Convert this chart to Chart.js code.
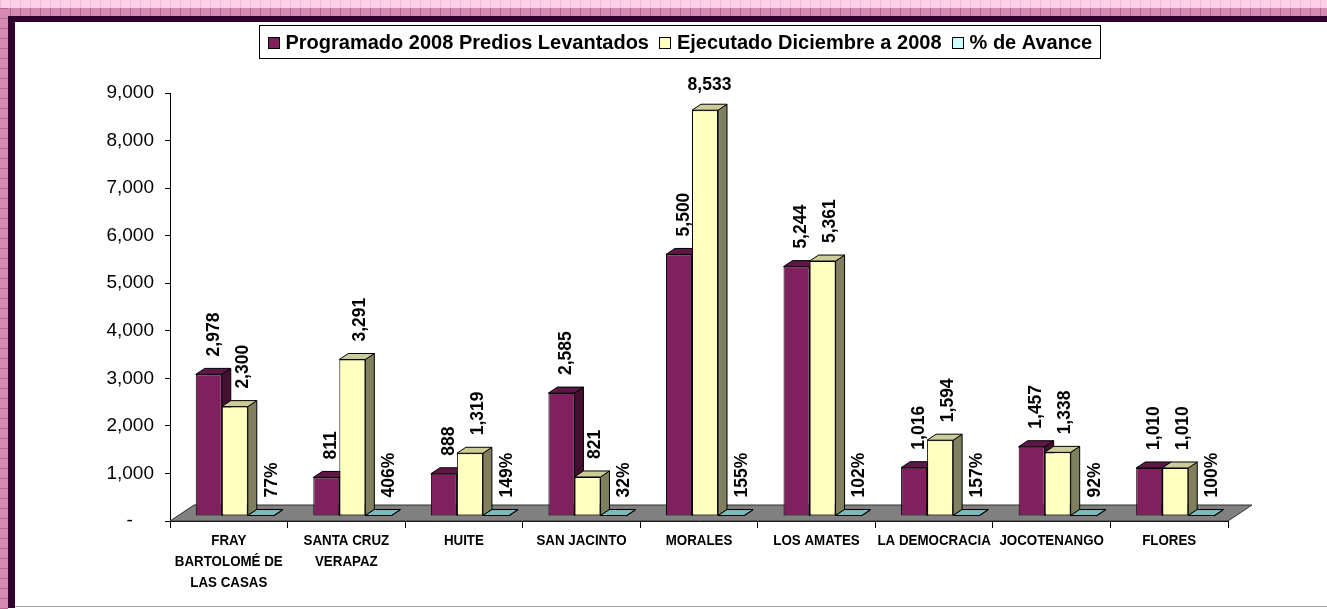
<!DOCTYPE html>
<html><head><meta charset="utf-8">
<script src="https://cdn.jsdelivr.net/npm/chart.js@4.4.0/dist/chart.umd.min.js"></script>
<style>
html,body{margin:0;padding:0;}
body{width:1327px;height:609px;overflow:hidden;position:relative;background:#fff;}
.b{position:absolute;}
</style></head><body>
<div class="b" style="left:0;top:0;width:1327px;height:8px;background:repeating-linear-gradient(90deg,#F6B8D6 0 1px,#FFCFE7 1px 10px);"></div>
<div class="b" style="left:0;top:8px;width:1327px;height:8px;background:repeating-linear-gradient(90deg,#B86794 0 1px,#D48AB2 1px 10px);"></div>
<div class="b" style="left:0;top:8px;width:8px;height:601px;background:repeating-linear-gradient(180deg,#B86794 0 1px,#D48AB2 1px 10px);"></div>
<div class="b" style="left:8px;top:16px;width:1319px;height:6px;background:#32002E;"></div>
<div class="b" style="left:8px;top:16px;width:7px;height:592px;background:#32002E;"></div>
<div class="b" style="left:15px;top:606px;width:1312px;height:1px;background:#A6A6A6;"></div>
<canvas id="c" width="1327" height="609" style="position:absolute;left:0;top:0;"></canvas>
<script>
// ---------------- data ----------------
const categories = [["FRAY","BARTOLOMÉ DE","LAS CASAS"],["SANTA CRUZ","VERAPAZ"],"HUITE","SAN JACINTO","MORALES","LOS AMATES","LA DEMOCRACIA","JOCOTENANGO","FLORES"];
const seriesNames = ["Programado 2008 Predios Levantados","Ejecutado Diciembre a 2008","% de Avance"];
const programado = [2978, 811, 888, 2585, 5500, 5244, 1016, 1457, 1010];
const ejecutado  = [2300, 3291, 1319, 821, 8533, 5361, 1594, 1338, 1010];
const avance     = [0.77, 4.06, 1.49, 0.32, 1.55, 1.02, 1.57, 0.92, 1.00];
const yTickLabels = ["-","1,000","2,000","3,000","4,000","5,000","6,000","7,000","8,000","9,000"];

// ---------------- styles ----------------
const FAM = '"Liberation Sans", Arial, sans-serif';
const frontColors = ['#80205F','#FFFFC0','#CCFFFF'];
const topColors   = ['#5E1747','#CCCC99','#7ABABA'];
const sideColors  = ['#43102F','#80805E','#5F9999'];
const labelDX = [5, 8, 11];
const DEPTH_X = 9, DEPTH_Y = -6, SHIFT_X = 6, SHIFT_Y = -5, FLOOR_DX = 24, FLOOR_DY = -16;
const LABEL_GAP = 18;
const LEGEND_CX = 679;
const X_LABEL_TOP = 19.5, X_LABEL_LINE = 21, X_LABEL_SQUEEZE = 0.86;

function poly(ctx, pts, fill){
  ctx.beginPath();
  ctx.moveTo(pts[0][0], pts[0][1]);
  for (let k = 1; k < pts.length; k++) ctx.lineTo(pts[k][0], pts[k][1]);
  ctx.closePath();
  ctx.fillStyle = fill; ctx.fill(); ctx.stroke();
}
function fmtNum(v){ return v.toLocaleString('en-US'); }
function fmtPct(v){ return Math.round(v*100) + '%'; }

const threeD = {
  id: 'threeD',
  beforeDatasetsDraw(chart){
    const {ctx, chartArea: a} = chart;
    ctx.save();
    ctx.lineWidth = 1; ctx.strokeStyle = '#333';
    poly(ctx, [[a.left,a.bottom],[a.right,a.bottom],[a.right+FLOOR_DX,a.bottom+FLOOR_DY],[a.left+FLOOR_DX,a.bottom+FLOOR_DY]], '#808080');
    ctx.restore();
    ctx.save();
    ctx.translate(SHIFT_X, SHIFT_Y);
    ctx.lineWidth = 1; ctx.strokeStyle = '#000';
    const n = chart.data.labels.length;
    for (let i = 0; i < n; i++){
      chart.data.datasets.forEach((ds, d) => {
        const el = chart.getDatasetMeta(d).data[i];
        const p = el.getProps(['x','y','base','width'], true);
        const L = p.x - p.width/2, R = p.x + p.width/2;
        const T = Math.min(p.y, p.base), B = Math.max(p.y, p.base);
        poly(ctx, [[R,T],[R+DEPTH_X,T+DEPTH_Y],[R+DEPTH_X,B+DEPTH_Y],[R,B]], sideColors[d]);
        poly(ctx, [[L,T],[R,T],[R+DEPTH_X,T+DEPTH_Y],[L+DEPTH_X,T+DEPTH_Y]], topColors[d]);
      });
    }
    // canvas stays translated while Chart.js draws the bar fronts
  },
  afterDatasetsDraw(chart){
    const ctx = chart.ctx;
    ctx.fillStyle = '#000';
    ctx.font = 'bold 17.5px ' + FAM;
    chart.data.datasets.forEach((ds, d) => {
      const meta = chart.getDatasetMeta(d);
      meta.data.forEach((el, i) => {
        const v = ds.data[i];
        const text = d < 2 ? fmtNum(v) : fmtPct(v);
        const p = el.getProps(['x','y','base'], true);
        const T = Math.min(p.y, p.base);
        const w = ctx.measureText(text).width;
        if (T - LABEL_GAP - w < chart.chartArea.top - 25){
          ctx.textAlign = 'center'; ctx.textBaseline = 'alphabetic';
          ctx.fillText(text, p.x + 4.5, T - 20);
        } else {
          ctx.save();
          ctx.translate(p.x + labelDX[d], T - LABEL_GAP);
          ctx.rotate(-Math.PI/2);
          ctx.textAlign = 'left'; ctx.textBaseline = 'middle';
          ctx.fillText(text, 0, 0);
          ctx.restore();
        }
      });
    });
    ctx.restore(); // undo translate from beforeDatasetsDraw
  },
  afterDraw(chart){
    const ctx = chart.ctx;
    // category labels (slightly condensed bold, like the original)
    const xs = chart.scales.x;
    ctx.save();
    ctx.fillStyle = '#000';
    ctx.font = 'bold 15.5px ' + FAM;
    ctx.textAlign = 'center'; ctx.textBaseline = 'middle';
    chart.data.labels.forEach((lab, i) => {
      const lines = Array.isArray(lab) ? lab : [lab];
      const cx = xs.getPixelForTick(i);
      lines.forEach((ln, k) => {
        ctx.save();
        ctx.translate(cx, xs.top + X_LABEL_TOP + k*X_LABEL_LINE);
        ctx.scale(X_LABEL_SQUEEZE, 1);
        ctx.fillText(ln, 0, 0);
        ctx.restore();
      });
    });
    ctx.restore();

    // legend
    ctx.save();
    ctx.font = 'bold 20px ' + FAM;
    const items = chart.data.datasets.map(ds => ({label: ds.label, color: ds.backgroundColor, w: ctx.measureText(ds.label).width}));
    const SW = 11, GAP1 = 7, GAP2 = 10, PADX = 8, H = 33;
    const contentW = items.reduce((s, it) => s + SW + GAP1 + it.w, 0) + GAP2*(items.length-1);
    const boxW = Math.round(contentW + 2*PADX);
    const left = Math.round(LEGEND_CX - boxW/2) + 0.5, top = 25.5;
    ctx.fillStyle = '#fff'; ctx.fillRect(left, top, boxW, H);
    ctx.strokeStyle = '#000'; ctx.lineWidth = 1; ctx.strokeRect(left, top, boxW, H);
    let x = left + PADX; const cy = top + H/2;
    items.forEach(it => {
      ctx.fillStyle = it.color;
      ctx.fillRect(Math.round(x)+0.5, Math.round(cy-5.5)+0.5, SW, SW);
      ctx.strokeRect(Math.round(x)+0.5, Math.round(cy-5.5)+0.5, SW, SW);
      x += SW + GAP1;
      ctx.fillStyle = '#000'; ctx.textAlign = 'left'; ctx.textBaseline = 'middle';
      ctx.fillText(it.label, x, cy + 1);
      x += it.w + GAP2;
    });
    ctx.restore();
  }
};

new Chart(document.getElementById('c'), {
  type: 'bar',
  data: {
    labels: categories,
    datasets: [
      {label: seriesNames[0], data: programado, backgroundColor: frontColors[0], borderColor: '#000', borderWidth: 1, borderSkipped: false},
      {label: seriesNames[1], data: ejecutado,  backgroundColor: frontColors[1], borderColor: '#000', borderWidth: 1, borderSkipped: false},
      {label: seriesNames[2], data: avance,     backgroundColor: frontColors[2], borderColor: '#000', borderWidth: 1, borderSkipped: false}
    ]
  },
  options: {
    responsive: false, animation: false, devicePixelRatio: 1, events: [],
    categoryPercentage: 0.664, barPercentage: 1.0,
    layout: {padding: {left: 0, top: 93, right: 99, bottom: 3}},
    plugins: {legend: {display: false}, tooltip: {enabled: false}},
    scales: {
      x: {
        z: 1,
        ticks: {display: false, autoSkip: false, maxRotation: 0, minRotation: 0},
        grid: {drawOnChartArea: false, drawTicks: true, tickLength: 7, color: '#000', offset: true},
        border: {display: true, color: '#000', width: 1},
        afterFit(s){ s.height = 85; }
      },
      y: {
        z: 1, min: 0, max: 9000,
        ticks: {stepSize: 1000, color: '#000', font: {family: FAM, size: 19}, padding: 11,
                callback: (v, i) => v === 0 ? '-    ' : yTickLabels[i]},
        grid: {drawOnChartArea: false, drawTicks: true, tickLength: 5, color: '#000'},
        border: {display: true, color: '#000', width: 1},
        afterFit(s){ s.width = 170; }
      }
    }
  },
  plugins: [threeD]
});
</script>
</body></html>
